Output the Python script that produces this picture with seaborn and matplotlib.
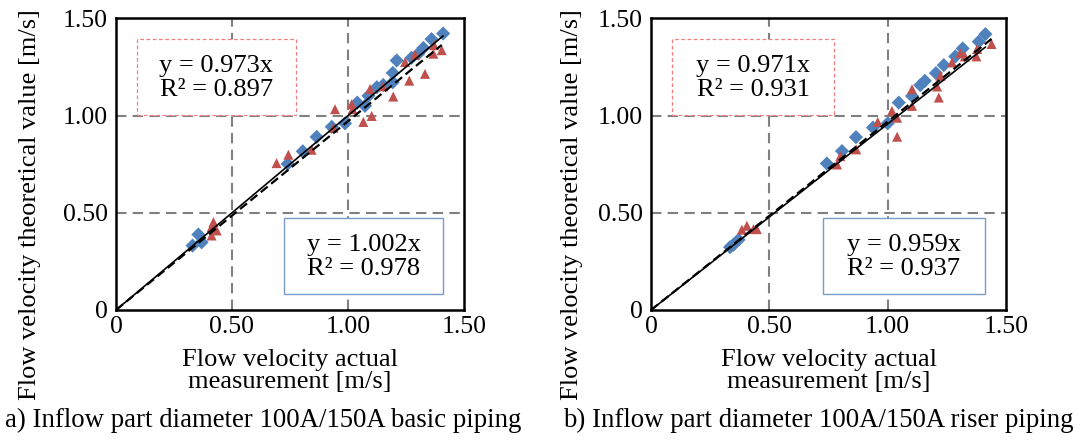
import numpy as np
import pandas as pd
import matplotlib
matplotlib.use("Agg")
import matplotlib.pyplot as plt
import seaborn as sns
from matplotlib.patches import Rectangle

# ---------------- data ----------------
# Panel a) basic piping
a_blue_x = [0.330, 0.355, 0.369, 0.740, 0.805, 0.865, 0.930, 0.987, 1.040, 1.073, 1.088, 1.124, 1.152,
            1.193, 1.193, 1.210, 1.274, 1.303, 1.325, 1.360, 1.410]
a_blue_y = [0.332, 0.389, 0.349, 0.753, 0.818, 0.892, 0.944, 0.962, 1.069, 1.052, 1.104, 1.148, 1.160,
            1.222, 1.174, 1.286, 1.300, 1.321, 1.351, 1.396, 1.425]
a_red_x = [0.412, 0.420, 0.434, 0.412, 0.692, 0.743, 0.843, 0.944, 0.937, 1.016, 1.020, 1.066, 1.102,
           1.095, 1.152, 1.195, 1.246, 1.264, 1.289, 1.332, 1.368, 1.371, 1.404]
a_red_y = [0.427, 0.453, 0.410, 0.384, 0.757, 0.800, 0.826, 1.035, 0.939, 1.061, 1.035, 0.969, 1.000,
           1.139, 1.153, 1.100, 1.278, 1.182, 1.316, 1.217, 1.321, 1.365, 1.339]
a_blue_slope, a_blue_r2 = 1.002, 0.978
a_red_slope, a_red_r2 = 0.973, 0.897

# Panel b) riser piping
b_blue_x = [0.334, 0.348, 0.370, 0.743, 0.807, 0.866, 0.938, 1.000, 1.047, 1.103, 1.138, 1.157, 1.204,
            1.237, 1.286, 1.317, 1.385, 1.413]
b_blue_y = [0.324, 0.336, 0.362, 0.755, 0.819, 0.891, 0.940, 0.962, 1.069, 1.103, 1.159, 1.181, 1.221,
            1.262, 1.307, 1.348, 1.383, 1.422]
b_red_x = [0.384, 0.405, 0.433, 0.447, 0.786, 0.800, 0.867, 0.958, 1.018, 1.040, 1.040, 1.103, 1.103,
           1.209, 1.216, 1.223, 1.272, 1.307, 1.326, 1.378, 1.375, 1.439]
b_red_y = [0.414, 0.434, 0.417, 0.417, 0.750, 0.793, 0.828, 0.969, 1.026, 0.991, 0.893, 1.138, 1.052,
           1.152, 1.095, 1.207, 1.276, 1.324, 1.307, 1.345, 1.307, 1.371]
b_blue_slope, b_blue_r2 = 0.959, 0.937
b_red_slope, b_red_r2 = 0.971, 0.931

tick_vals = [0, 0.5, 1.0, 1.5]
tick_labels = ["0", "0.50", "1.00", "1.50"]

xlabel = "Flow velocity actual\nmeasurement [m/s]"
ylabel = "Flow velocity theoretical value [m/s]"
captions = ["a) Inflow part diameter 100A/150A basic piping",
            "b) Inflow part diameter 100A/150A riser piping"]

BLUE = "#4F81BD"
RED = "#C0504D"

sns.set_theme(style="white")
plt.rcParams["font.family"] = ["Liberation Serif", "DejaVu Serif"]

fig = plt.figure(figsize=(10.87, 4.42), dpi=100)
W, H = 1087, 442
ax_a = fig.add_axes([116 / W, (H - 310) / H, 348 / W, 292 / H])
ax_b = fig.add_axes([651 / W, (H - 310) / H, 355 / W, 292 / H])

FS = 19


def draw(ax, bx, by, rx, ry, bslope, br2, rslope, rr2, caption, cap_x, ylab_x):
    df = pd.DataFrame({
        "x": list(bx) + list(rx),
        "y": list(by) + list(ry),
        "s": ["blue"] * len(bx) + ["red"] * len(rx),
    })
    sns.scatterplot(data=df, x="x", y="y", hue="s", style="s",
                    palette={"blue": BLUE, "red": RED},
                    markers={"blue": "D", "red": "^"}, s=52,
                    linewidth=0, ax=ax, legend=False, zorder=3)
    xb = np.array([0.0, max(bx)])
    xr = np.array([0.0, max(rx)])
    sns.lineplot(x=xb, y=bslope * xb, color="black", lw=1.2, ax=ax, zorder=4)
    sns.lineplot(x=xr, y=rslope * xr, color="black", lw=1.6, ax=ax, zorder=4,
                 linestyle=(0, (4, 2)))
    ax.set_xlim(0, 1.5)
    ax.set_ylim(0, 1.505)
    ax.set_xticks(tick_vals)
    ax.set_xticklabels(tick_labels)
    ax.set_yticks(tick_vals)
    ax.set_yticklabels(tick_labels)
    ax.tick_params(length=0, labelsize=18.5, colors="black")
    ax.tick_params(axis="y", pad=6)
    ax.tick_params(axis="x", pad=4)
    for v in (0.5, 1.0):
        ax.axvline(v, color="#808080", lw=1.5, ls=(0, (5, 3)), zorder=1)
        ax.axhline(v, color="#808080", lw=1.5, ls=(0, (5, 3)), zorder=1)
    for sp in ax.spines.values():
        sp.set_color("black")
        sp.set_linewidth(1.8)
    ax.set_xlabel("")
    ax.set_ylabel("")
    pos = ax.get_position()
    fig.text((pos.x0 + pos.x1) / 2, (H - 371) / H, xlabel, fontsize=FS,
             ha="center", va="center", color="black", linespacing=1.05)
    fig.text(ylab_x, (H - 205) / H, ylabel, rotation=90, fontsize=FS,
             ha="center", va="center", color="black")
    fig.text(cap_x, (H - 420) / H, caption, fontsize=19.3, ha="left", va="center",
             color="black")
    # equation boxes
    ax.add_patch(Rectangle((0.09, 1.003), 0.685, 0.393, facecolor="white",
                           edgecolor="#F08080", lw=0.9, ls=(0, (3, 2)), zorder=5))
    ax.text(0.09 + 0.685 / 2, 1.195, f"y = {rslope:.3f}x\nR² = {rr2:.3f}",
            ha="center", va="center", fontsize=FS, linespacing=1.08, zorder=6,
            color="black")
    ax.add_patch(Rectangle((0.726, 0.08), 0.685, 0.396, facecolor="white",
                           edgecolor="#7A9CC8", lw=1.0, zorder=5))
    ax.text(0.726 + 0.685 / 2, 0.273, f"y = {bslope:.3f}x\nR² = {br2:.3f}",
            ha="center", va="center", fontsize=FS, linespacing=1.08, zorder=6,
            color="black")


draw(ax_a, a_blue_x, a_blue_y, a_red_x, a_red_y, a_blue_slope, a_blue_r2,
     a_red_slope, a_red_r2, captions[0], 5 / W, 30 / W)
draw(ax_b, b_blue_x, b_blue_y, b_red_x, b_red_y, b_blue_slope, b_blue_r2,
     b_red_slope, b_red_r2, captions[1], 563 / W, 572 / W)

fig.savefig("out.png", dpi=100)
